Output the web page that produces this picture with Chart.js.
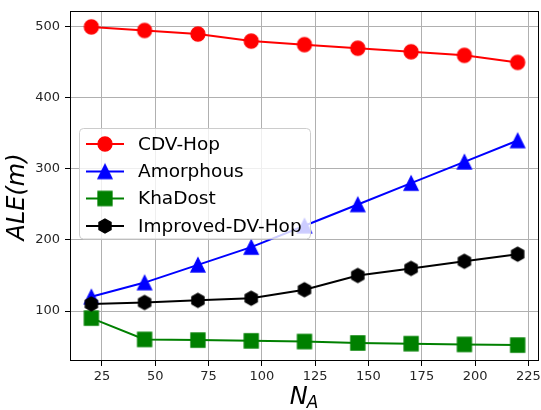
<!DOCTYPE html>
<html><head><meta charset="utf-8">
<script src="https://cdn.jsdelivr.net/npm/chart.js@4/dist/chart.umd.min.js"></script>
<style>html,body{margin:0;padding:0;background:#fff}#wrap{width:541px;height:410px;position:relative}</style>
</head><body><div id="wrap"><canvas id="c" width="541" height="410"></canvas></div>
<script>
const xValues = [20, 45, 70, 95, 120, 145, 170, 195, 220];
const cdvHop = [500, 495, 490, 480, 475, 470, 465, 460, 450];
const amorphous = [120, 140, 165, 190, 220, 250, 280, 310, 340];
const khaDost = [90, 60, 59, 58, 57, 55, 54, 53, 52];
const improvedDvHop = [110, 112, 115, 118, 130, 150, 160, 170, 180];
const seriesNames = ['CDV-Hop', 'Amorphous', 'KhaDost', 'Improved-DV-Hop'];
const xTicks = [25, 50, 75, 100, 125, 150, 175, 200, 225];
const yTicks = [100, 200, 300, 400, 500];

const FONT = '"DejaVu Sans", sans-serif';

function makeMarker(shape, color) {
  const s = 20, c = s / 2, cv = document.createElement('canvas');
  cv.width = s; cv.height = s;
  const g = cv.getContext('2d');
  g.fillStyle = color; g.strokeStyle = color; g.lineWidth = 1.3;
  g.beginPath();
  const r = 7;
  if (shape === 'circle') {
    g.arc(c, c, r, 0, Math.PI * 2);
  } else if (shape === 'triangle') {
    g.moveTo(c, c - r); g.lineTo(c - r, c + r); g.lineTo(c + r, c + r);
  } else if (shape === 'square') {
    g.rect(c - r, c - r, 2 * r, 2 * r);
  } else if (shape === 'hexagon') {
    for (let i = 0; i < 6; i++) {
      const a = -Math.PI / 2 + i * Math.PI / 3;
      const px = c + r * Math.cos(a), py = c + r * Math.sin(a);
      if (i === 0) g.moveTo(px, py); else g.lineTo(px, py);
    }
  }
  g.closePath(); g.fill(); g.stroke();
  return cv;
}

const colors = ['#ff0000', '#0000ff', '#008000', '#000000'];
const shapes = ['circle', 'triangle', 'square', 'hexagon'];
const markers = shapes.map((s, i) => makeMarker(s, colors[i]));
const seriesValues = [cdvHop, amorphous, khaDost, improvedDvHop];

const datasets = seriesValues.map((vals, i) => ({
  label: seriesNames[i],
  data: xValues.map((x, j) => ({ x: x, y: vals[j] })),
  borderColor: colors[i],
  backgroundColor: colors[i],
  borderWidth: 2,
  pointStyle: markers[i],
  pointRadius: 7,
  pointHoverRadius: 7,
  tension: 0,
  fill: false,
  order: 4 - i,
  clip: false
}));

const framePlugin = {
  id: 'extras',
  afterDraw(chart) {
    const ctx = chart.ctx, a = chart.chartArea;
    ctx.save();
    ctx.strokeStyle = '#000'; ctx.lineWidth = 1;
    ctx.strokeRect(Math.round(a.left) + 0.5, Math.round(a.top) + 0.5,
      Math.round(a.right - a.left) - 1, Math.round(a.bottom - a.top) - 1);
    // legend
    const lx = 79.5, ly = 128.5, lw = 231, lh = 110.5;
    ctx.beginPath();
    ctx.roundRect(lx, ly, lw, lh, 4);
    ctx.fillStyle = 'rgba(255,255,255,0.8)';
    ctx.fill();
    ctx.strokeStyle = '#cccccc'; ctx.lineWidth = 1; ctx.stroke();
    const rows = [144, 171.5, 198.5, 226];
    ctx.font = '18.5px ' + FONT;
    ctx.textBaseline = 'middle';
    ctx.textAlign = 'left';
    for (let i = 0; i < 4; i++) {
      const y = rows[i];
      ctx.strokeStyle = colors[i]; ctx.lineWidth = 2;
      ctx.beginPath(); ctx.moveTo(86, y); ctx.lineTo(124, y); ctx.stroke();
      ctx.drawImage(markers[i], 105 - markers[i].width / 2, y - markers[i].height / 2);
      ctx.fillStyle = '#000';
      ctx.fillText(seriesNames[i], 138, y + 1);
    }
    // y axis title
    ctx.save();
    ctx.translate(18, (a.top + a.bottom) / 2 + 11);
    ctx.rotate(-Math.PI / 2);
    ctx.font = 'italic 24px ' + FONT;
    ctx.textAlign = 'center'; ctx.textBaseline = 'middle';
    ctx.fillStyle = '#000';
    ctx.fillText('ALE(m)', 0, 0);
    ctx.restore();
    // x axis title N_A
    ctx.font = 'italic 24px ' + FONT;
    const wN = ctx.measureText('N').width;
    ctx.font = 'italic 17px ' + FONT;
    const wA = ctx.measureText('A').width;
    const cx = (a.left + a.right) / 2;
    const x0 = cx - (wN + wA) / 2;
    ctx.textAlign = 'left'; ctx.textBaseline = 'alphabetic';
    ctx.fillStyle = '#000';
    ctx.font = 'italic 24px ' + FONT;
    ctx.fillText('N', x0, 404);
    ctx.font = 'italic 17px ' + FONT;
    ctx.fillText('A', x0 + wN - 1, 408);
    ctx.restore();
  }
};

new Chart(document.getElementById('c'), {
  type: 'line',
  data: { datasets: datasets },
  options: {
    responsive: false,
    animation: false,
    devicePixelRatio: 1,
    events: [],
    layout: { autoPadding: false, padding: { top: 11, right: 2, left: 0, bottom: 0 } },
    plugins: { legend: { display: false }, tooltip: { enabled: false } },
    scales: {
      x: {
        type: 'linear', min: 10, max: 230,
        afterBuildTicks: (s) => { s.ticks = xTicks.map(v => ({ value: v })); },
        afterFit: (s) => { s.height = 49; s.paddingLeft = 0; s.paddingRight = 0; },
        grid: { color: '#b0b0b0', lineWidth: 1, tickColor: '#000', tickLength: 5, drawTicks: true },
        border: { display: false },
        ticks: { font: { family: FONT, size: 13 }, color: '#262626', padding: 3, maxRotation: 0, autoSkip: false }
      },
      y: {
        type: 'linear', min: 29.6, max: 522.4,
        afterBuildTicks: (s) => { s.ticks = yTicks.map(v => ({ value: v })); },
        afterFit: (s) => { s.width = 70; s.paddingTop = 0; s.paddingBottom = 0; },
        grid: { color: '#b0b0b0', lineWidth: 1, tickColor: '#000', tickLength: 5, drawTicks: true },
        border: { display: false },
        ticks: { font: { family: FONT, size: 13 }, color: '#262626', padding: 5, autoSkip: false }
      }
    }
  },
  plugins: [framePlugin]
});
</script>
</body></html>
